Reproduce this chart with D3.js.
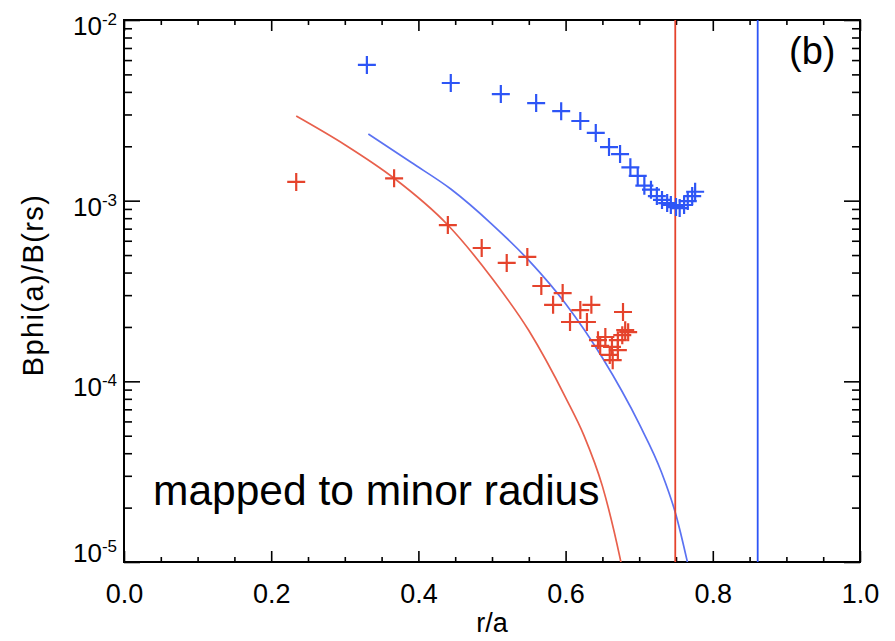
<!DOCTYPE html>
<html><head><meta charset="utf-8">
<script src="https://cdn.jsdelivr.net/npm/d3@7"></script>
<style>
body{margin:0;background:#fff}
svg{display:block}
text{font-family:"Liberation Sans",Arial,Helvetica,sans-serif;fill:#000}
</style>
</head><body><div id="chart"></div>
<script>
// ---- data ----
const blueCrossR = [0.330,0.444,0.512,0.560,0.594,0.620,0.641,0.659,0.674,0.688,0.698,0.707,0.716,0.724,0.731,0.738,0.743,0.750,0.755,0.761,0.766,0.772,0.776];
const blueCrossV = [5.64e-3,4.48e-3,3.89e-3,3.47e-3,3.13e-3,2.76e-3,2.37e-3,1.98e-3,1.81e-3,1.53e-3,1.37e-3,1.21e-3,1.15e-3,1.06e-3,1.01e-3,0.97e-3,0.946e-3,0.922e-3,0.91e-3,0.946e-3,0.995e-3,1.06e-3,1.12e-3];

const redCrossR = [0.234,0.367,0.440,0.486,0.520,0.548,0.567,0.596,0.583,0.620,0.635,0.606,0.629,0.678,0.644,0.654,0.647,0.663,0.660,0.664,0.671,0.677,0.681,0.685,0.671];
const redCrossV = [1.27e-3,1.33e-3,7.33e-4,5.47e-4,4.52e-4,4.88e-4,3.37e-4,3.08e-4,2.65e-4,2.48e-4,2.65e-4,2.13e-4,2.13e-4,2.42e-4,1.69e-4,1.76e-4,1.57e-4,1.55e-4,1.40e-4,1.31e-4,1.69e-4,1.80e-4,1.92e-4,1.87e-4,1.49e-4];

const redCurveR = [0.234,0.300,0.367,0.440,0.500,0.550,0.600,0.625,0.650,0.674,0.685];
const redCurveV = [2.94e-3,2.04e-3,1.33e-3,7.33e-4,3.72e-4,1.91e-4,8.13e-5,5.01e-5,2.63e-5,1.05e-5,6.3e-6];

const blueCurveR = [0.332,0.390,0.444,0.500,0.550,0.600,0.650,0.700,0.730,0.750,0.765,0.772];
const blueCurveV = [2.34e-3,1.63e-3,1.16e-3,7.40e-4,4.67e-4,2.69e-4,1.35e-4,5.81e-5,3.16e-5,1.82e-5,1.02e-5,7.6e-6];

const redLineR = 0.749;
const blueLineR = 0.861;

const xTickValues = [0.0,0.2,0.4,0.6,0.8,1.0];
const yTickExponents = [-2,-3,-4,-5];

const xLabel = "r/a";
const yLabel = "Bphi(a)/B(rs)";
const noteText = "mapped to minor radius";
const panelText = "(b)";

// ---- layout ----
const W = 895, H = 641;
const L = 124, R = 860, T = 20, B = 562;
const colBlue = "#2d55f6", colRed = "#e5432c";
const colBlueCurve = "#5b72f2", colRedCurve = "#e8604c";

const svg = d3.select("#chart").append("svg").attr("width", W).attr("height", H);

const x = d3.scaleLinear().domain([0,1]).range([L,R]);
const y = d3.scaleLog().domain([1e-5,1e-2]).range([B,T]);

svg.append("defs").append("clipPath").attr("id","clip")
  .append("rect").attr("x",L).attr("y",T).attr("width",R-L).attr("height",B-T);

const xMinor = d3.range(0,21).map(i=>i*0.05).filter(v=>Math.abs(v/0.2-Math.round(v/0.2))>1e-6);
const yMajor = yTickExponents.map(e=>Math.pow(10,e));
const yMinor = [];
[-5,-4,-3].forEach(e=>{for(let m=2;m<=9;m++) yMinor.push(m*Math.pow(10,e));});

function styleAxis(g){
  g.select(".domain").remove();
  g.selectAll(".tick line").attr("stroke","#000").attr("stroke-width",1.6);
}
// x axes
svg.append("g").attr("transform",`translate(0,${B})`)
  .call(d3.axisBottom(x).tickValues(xTickValues).tickSize(-11).tickFormat(d3.format(".1f")))
  .call(styleAxis)
  .call(g=>g.selectAll("text").attr("y",41).attr("dy",0).attr("font-size",27).attr("fill","#000"));
svg.append("g").attr("transform",`translate(0,${B})`)
  .call(d3.axisBottom(x).tickValues(xMinor).tickSize(-5).tickFormat(""))
  .call(styleAxis);
svg.append("g").attr("transform",`translate(0,${T})`)
  .call(d3.axisTop(x).tickValues(xTickValues).tickSize(-11).tickFormat(""))
  .call(styleAxis);
svg.append("g").attr("transform",`translate(0,${T})`)
  .call(d3.axisTop(x).tickValues(xMinor).tickSize(-5).tickFormat(""))
  .call(styleAxis);
// y axes
svg.append("g").attr("transform",`translate(${L},0)`)
  .call(d3.axisLeft(y).tickValues(yMajor).tickSize(-16).tickFormat(""))
  .call(styleAxis);
svg.append("g").attr("transform",`translate(${L},0)`)
  .call(d3.axisLeft(y).tickValues(yMinor).tickSize(-8).tickFormat(""))
  .call(styleAxis);
svg.append("g").attr("transform",`translate(${R},0)`)
  .call(d3.axisRight(y).tickValues(yMajor).tickSize(-16).tickFormat(""))
  .call(styleAxis);
svg.append("g").attr("transform",`translate(${R},0)`)
  .call(d3.axisRight(y).tickValues(yMinor).tickSize(-8).tickFormat(""))
  .call(styleAxis);

// y tick labels with superscripts
const yl = svg.append("g");
yTickExponents.forEach(e=>{
  const ty = Math.min(y(Math.pow(10,e)) + 15, B);
  const t = yl.append("text").attr("x",L-7).attr("y",ty).attr("text-anchor","end").attr("font-size",26);
  t.append("tspan").text("10");
  t.append("tspan").attr("font-size",17).attr("dy",-10).text(String(e));
});

// frame
svg.append("rect").attr("x",L).attr("y",T).attr("width",R-L).attr("height",B-T)
  .attr("fill","none").attr("stroke","#000").attr("stroke-width",2);

const plot = svg.append("g").attr("clip-path","url(#clip)");

const line = d3.line().x(d=>x(d[0])).y(d=>y(d[1])).curve(d3.curveMonotoneX);
plot.append("path").datum(redCurveR.map((r,i)=>[r,redCurveV[i]]))
  .attr("d",line).attr("fill","none").attr("stroke",colRedCurve).attr("stroke-width",1.7);
plot.append("path").datum(blueCurveR.map((r,i)=>[r,blueCurveV[i]]))
  .attr("d",line).attr("fill","none").attr("stroke",colBlueCurve).attr("stroke-width",1.7);

// vertical lines
plot.append("line").attr("x1",x(redLineR)).attr("x2",x(redLineR)).attr("y1",T).attr("y2",B)
  .attr("stroke",colRed).attr("stroke-width",1.8);
plot.append("line").attr("x1",x(blueLineR)).attr("x2",x(blueLineR)).attr("y1",T).attr("y2",B)
  .attr("stroke",colBlue).attr("stroke-width",1.8);

// crosses
function cross(cx,cy){return `M${cx-9},${cy}h18M${cx},${cy-9}v18`;}
plot.selectAll(".rc").data(redCrossR.map((r,i)=>[r,redCrossV[i]])).join("path")
  .attr("d",d=>cross(x(d[0]),y(d[1]))).attr("stroke",colRed).attr("stroke-width",2.2).attr("fill","none");
plot.selectAll(".bc").data(blueCrossR.map((r,i)=>[r,blueCrossV[i]])).join("path")
  .attr("d",d=>cross(x(d[0]),y(d[1]))).attr("stroke",colBlue).attr("stroke-width",2.2).attr("fill","none");

// texts
svg.append("text").attr("x",153).attr("y",505).attr("font-size",42.5).text(noteText);
svg.append("text").attr("x",789).attr("y",64).attr("font-size",38).text(panelText);
svg.append("text").attr("x",(L+R)/2).attr("y",632).attr("text-anchor","middle").attr("font-size",27).text(xLabel);
svg.append("text").attr("transform","translate(43,285) rotate(-90)").attr("text-anchor","middle")
  .attr("font-size",29).attr("letter-spacing",1.4).text(yLabel);
</script>
</body></html>
